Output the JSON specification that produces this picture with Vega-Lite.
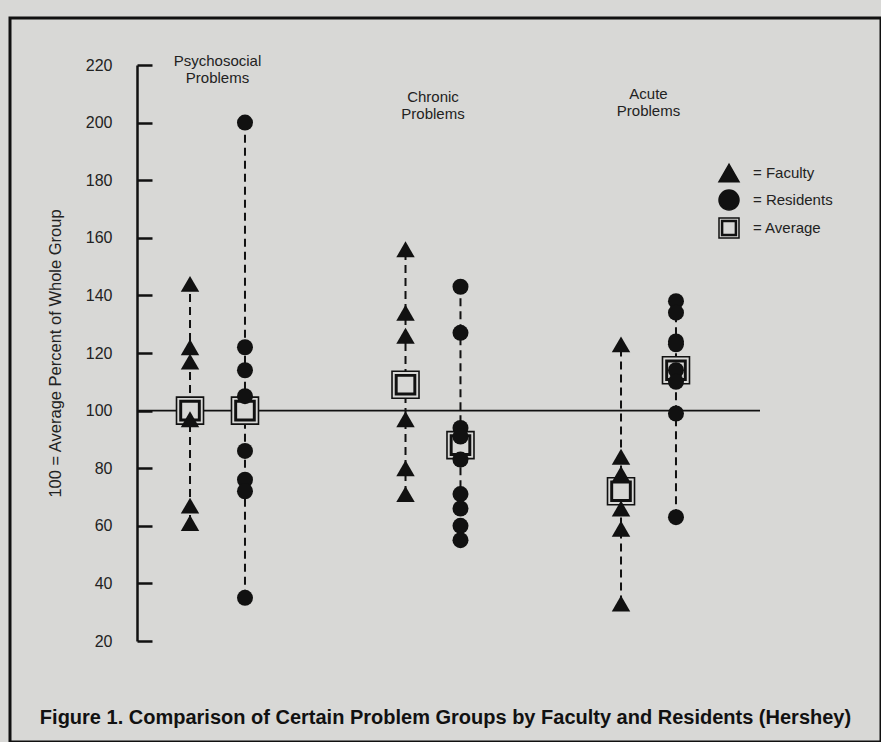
{
  "$schema": "https://vega.github.io/schema/vega-lite/v6.json",
  "width": 871,
  "height": 724,
  "autosize": "none",
  "padding": {"left": 10, "top": 18, "right": 0, "bottom": 0},
  "background": "#d8d8d6",
  "config": {
    "view": {"stroke": "#111", "strokeWidth": 3},
    "font": "Liberation Sans"
  },
  "title": {
    "text": "Figure 1. Comparison of Certain Problem Groups by Faculty and Residents (Hershey)",
    "orient": "bottom",
    "anchor": "middle",
    "offset": -34,
    "fontSize": 20,
    "fontWeight": "bold",
    "font": "Liberation Sans",
    "color": "#111"
  },
  "datasets": {
    "points": [
      {"group": "Psychosocial", "column": "Faculty", "symbol": "Faculty", "value": 144},
      {"group": "Psychosocial", "column": "Faculty", "symbol": "Faculty", "value": 122},
      {"group": "Psychosocial", "column": "Faculty", "symbol": "Faculty", "value": 117},
      {"group": "Psychosocial", "column": "Faculty", "symbol": "Faculty", "value": 97},
      {"group": "Psychosocial", "column": "Faculty", "symbol": "Faculty", "value": 67},
      {"group": "Psychosocial", "column": "Faculty", "symbol": "Faculty", "value": 61},
      {"group": "Psychosocial", "column": "Residents", "symbol": "Residents", "value": 200},
      {"group": "Psychosocial", "column": "Residents", "symbol": "Residents", "value": 122},
      {"group": "Psychosocial", "column": "Residents", "symbol": "Residents", "value": 114},
      {"group": "Psychosocial", "column": "Residents", "symbol": "Residents", "value": 105},
      {"group": "Psychosocial", "column": "Residents", "symbol": "Residents", "value": 86},
      {"group": "Psychosocial", "column": "Residents", "symbol": "Residents", "value": 76},
      {"group": "Psychosocial", "column": "Residents", "symbol": "Residents", "value": 72},
      {"group": "Psychosocial", "column": "Residents", "symbol": "Residents", "value": 35},
      {"group": "Chronic", "column": "Faculty", "symbol": "Faculty", "value": 156},
      {"group": "Chronic", "column": "Faculty", "symbol": "Faculty", "value": 134},
      {"group": "Chronic", "column": "Faculty", "symbol": "Faculty", "value": 126},
      {"group": "Chronic", "column": "Faculty", "symbol": "Faculty", "value": 97},
      {"group": "Chronic", "column": "Faculty", "symbol": "Faculty", "value": 80},
      {"group": "Chronic", "column": "Faculty", "symbol": "Faculty", "value": 71},
      {"group": "Chronic", "column": "Residents", "symbol": "Residents", "value": 143},
      {"group": "Chronic", "column": "Residents", "symbol": "Residents", "value": 127},
      {"group": "Chronic", "column": "Residents", "symbol": "Residents", "value": 94},
      {"group": "Chronic", "column": "Residents", "symbol": "Residents", "value": 91},
      {"group": "Chronic", "column": "Residents", "symbol": "Residents", "value": 83},
      {"group": "Chronic", "column": "Residents", "symbol": "Residents", "value": 71},
      {"group": "Chronic", "column": "Residents", "symbol": "Residents", "value": 66},
      {"group": "Chronic", "column": "Residents", "symbol": "Residents", "value": 60},
      {"group": "Chronic", "column": "Residents", "symbol": "Residents", "value": 55},
      {"group": "Acute", "column": "Faculty", "symbol": "Faculty", "value": 123},
      {"group": "Acute", "column": "Faculty", "symbol": "Faculty", "value": 84},
      {"group": "Acute", "column": "Faculty", "symbol": "Faculty", "value": 78},
      {"group": "Acute", "column": "Faculty", "symbol": "Faculty", "value": 66},
      {"group": "Acute", "column": "Faculty", "symbol": "Faculty", "value": 59},
      {"group": "Acute", "column": "Faculty", "symbol": "Faculty", "value": 33},
      {"group": "Acute", "column": "Residents", "symbol": "Residents", "value": 138},
      {"group": "Acute", "column": "Residents", "symbol": "Residents", "value": 134},
      {"group": "Acute", "column": "Residents", "symbol": "Residents", "value": 124},
      {"group": "Acute", "column": "Residents", "symbol": "Residents", "value": 123},
      {"group": "Acute", "column": "Residents", "symbol": "Residents", "value": 114},
      {"group": "Acute", "column": "Residents", "symbol": "Residents", "value": 110},
      {"group": "Acute", "column": "Residents", "symbol": "Residents", "value": 99},
      {"group": "Acute", "column": "Residents", "symbol": "Residents", "value": 63}
    ],
    "averages": [
      {"group": "Psychosocial", "column": "Faculty", "symbol": "Average", "value": 100},
      {"group": "Psychosocial", "column": "Residents", "symbol": "Average", "value": 100},
      {"group": "Chronic", "column": "Faculty", "symbol": "Average", "value": 109},
      {"group": "Chronic", "column": "Residents", "symbol": "Average", "value": 88},
      {"group": "Acute", "column": "Faculty", "symbol": "Average", "value": 72},
      {"group": "Acute", "column": "Residents", "symbol": "Average", "value": 114}
    ],
    "labels": [
      {"group": "Psychosocial", "label": ["Psychosocial", "Problems"], "value": 223.8},
      {"group": "Chronic", "label": ["Chronic", "Problems"], "value": 211.3},
      {"group": "Acute", "label": ["Acute", "Problems"], "value": 212.4}
    ],
    "reference": [{"value": 100}]
  },
  "resolve": {"scale": {"x": "independent", "xOffset": "independent"}},
  "layer": [
    {
      "data": {"name": "reference"},
      "mark": {"type": "rule", "color": "#111", "strokeWidth": 1.8},
      "encoding": {
        "y": {
          "field": "value",
          "type": "quantitative",
          "scale": {"domain": [20, 220], "range": [623, 47], "nice": false, "zero": false},
          "axis": {
            "orient": "left",
            "offset": -127,
            "values": [20, 40, 60, 80, 100, 120, 140, 160, 180, 200, 220],
            "grid": false,
            "domainColor": "#111",
            "domainWidth": 2.5,
            "tickColor": "#111",
            "tickWidth": 2.5,
            "tickSize": -15,
            "labelPadding": 40,
            "labelFontSize": 16,
            "labelFont": "Liberation Sans",
            "labelColor": "#222",
            "title": "100 = Average Percent of Whole Group",
            "titleFont": "Liberation Sans",
            "titleFontSize": 16.5,
            "titleFontWeight": "normal",
            "titleColor": "#222",
            "titlePadding": 22
          }
        },
        "x": {"datum": 0, "type": "quantitative", "scale": {"domain": [0, 1], "range": [127, 750]}, "axis": null},
        "x2": {"datum": 1}
      }
    },
    {
      "data": {"name": "points"},
      "mark": {"type": "rule", "color": "#111", "strokeWidth": 2, "strokeDash": [8, 5]},
      "encoding": {
        "x": {"field": "group", "type": "nominal", "scale": {"type": "band", "domain": ["Psychosocial", "Chronic", "Acute"], "range": [99.75, 746.25], "paddingInner": 0, "paddingOuter": 0}, "axis": null},
        "xOffset": {"field": "column", "type": "nominal", "scale": {"type": "band", "domain": ["Faculty", "Residents"], "paddingOuter": 0.96, "paddingInner": 0}},
        "y": {"aggregate": "min", "field": "value", "type": "quantitative"},
        "y2": {"aggregate": "max", "field": "value"}
      }
    },
    {
      "data": {"name": "averages"},
      "mark": {"type": "point", "filled": true, "size": 729, "strokeWidth": 1.6, "opacity": 1},
      "encoding": {
        "x": {"field": "group", "type": "nominal", "scale": {"type": "band", "domain": ["Psychosocial", "Chronic", "Acute"], "range": [99.75, 746.25], "paddingInner": 0, "paddingOuter": 0}, "axis": null},
        "xOffset": {"field": "column", "type": "nominal", "scale": {"type": "band", "domain": ["Faculty", "Residents"], "paddingOuter": 0.96, "paddingInner": 0}},
        "y": {"field": "value", "type": "quantitative"},
        "shape": {
          "field": "symbol", "type": "nominal",
          "scale": {"domain": ["Faculty", "Residents", "Average"], "range": ["triangle-up", "circle", "M-1,-1H1V1H-1Z M-0.74,-0.74H0.74V0.74H-0.74Z M-0.64,-0.64H0.64V0.64H-0.64Z"]},
          "legend": {
            "title": null,
            "orient": "none",
            "legendX": 708,
            "legendY": 144,
            "direction": "vertical",
            "labelExpr": "'=   ' + datum.label",
            "labelFont": "Liberation Sans",
            "labelFontSize": 15,
            "labelColor": "#222",
            "symbolSize": 400,
            "symbolStrokeWidth": 1.5,
            "rowPadding": 2,
            "labelOffset": 13,
            "padding": 0
          }
        },
        "fill": {"field": "symbol", "type": "nominal", "scale": {"domain": ["Faculty", "Residents", "Average"], "range": ["#111", "#111", "#d8d8d6"]}},
        "stroke": {"field": "symbol", "type": "nominal", "scale": {"domain": ["Faculty", "Residents", "Average"], "range": ["#111", "#111", "#111"]}}
      }
    },
    {
      "data": {"name": "points"},
      "transform": [{"filter": "datum.symbol === 'Faculty'"}],
      "mark": {"type": "point", "filled": true, "size": 340, "strokeWidth": 0, "opacity": 1},
      "encoding": {
        "x": {"field": "group", "type": "nominal", "scale": {"type": "band", "domain": ["Psychosocial", "Chronic", "Acute"], "range": [99.75, 746.25], "paddingInner": 0, "paddingOuter": 0}, "axis": null},
        "xOffset": {"field": "column", "type": "nominal", "scale": {"type": "band", "domain": ["Faculty", "Residents"], "paddingOuter": 0.96, "paddingInner": 0}},
        "y": {"field": "value", "type": "quantitative"},
        "shape": {"field": "symbol", "type": "nominal"},
        "fill": {"field": "symbol", "type": "nominal"},
        "stroke": {"field": "symbol", "type": "nominal"}
      }
    },
    {
      "data": {"name": "points"},
      "transform": [{"filter": "datum.symbol === 'Residents'"}],
      "mark": {"type": "point", "filled": true, "size": 256, "strokeWidth": 0, "opacity": 1},
      "encoding": {
        "x": {"field": "group", "type": "nominal", "scale": {"type": "band", "domain": ["Psychosocial", "Chronic", "Acute"], "range": [99.75, 746.25], "paddingInner": 0, "paddingOuter": 0}, "axis": null},
        "xOffset": {"field": "column", "type": "nominal", "scale": {"type": "band", "domain": ["Faculty", "Residents"], "paddingOuter": 0.96, "paddingInner": 0}},
        "y": {"field": "value", "type": "quantitative"},
        "shape": {"field": "symbol", "type": "nominal"},
        "fill": {"field": "symbol", "type": "nominal"},
        "stroke": {"field": "symbol", "type": "nominal"}
      }
    },
    {
      "data": {"name": "labels"},
      "mark": {"type": "text", "align": "center", "baseline": "top", "fontSize": 15, "lineHeight": 17, "font": "Liberation Sans", "color": "#222"},
      "encoding": {
        "x": {"field": "group", "type": "nominal", "scale": {"type": "band", "domain": ["Psychosocial", "Chronic", "Acute"], "range": [99.75, 746.25], "paddingInner": 0, "paddingOuter": 0}, "axis": null},
        "y": {"field": "value", "type": "quantitative"},
        "text": {"field": "label"}
      }
    }
  ]
}
